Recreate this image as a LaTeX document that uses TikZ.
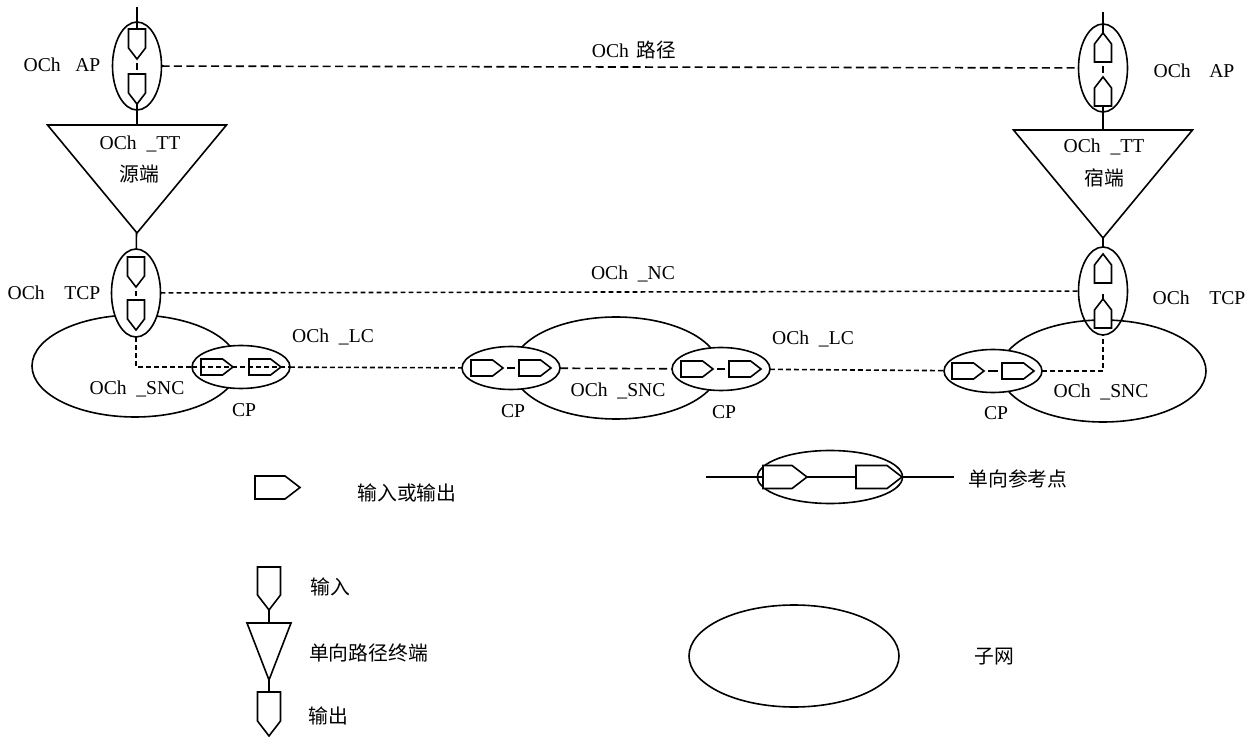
\documentclass[tikz,border=0pt]{standalone}
\usepackage{fontspec}
\setmainfont{Liberation Serif}
\newfontfamily\cjk{Noto Sans CJK SC}
\usepackage{tikz}
\usetikzlibrary{shapes.geometric,shapes.symbols}

\begin{document}
\begin{tikzpicture}[x=.5pt,y=-.5pt,line width=.8pt,
  every node/.style={inner sep=0pt,outer sep=0pt},
  net node/.style={ellipse,draw,minimum width=103pt,minimum height=51pt},
  ref node/.style={ellipse,draw,minimum width=24.5pt,minimum height=44pt},
  cp node/.style={ellipse,draw,fill=white,minimum width=49pt,minimum height=21.5pt},
  down port/.style={signal,draw,fill=white,signal to=south,signal pointer angle=75,anchor=north,minimum width=8.5pt,minimum height=9.5pt},
  up port/.style={signal,draw,fill=white,signal to=north,signal pointer angle=75,anchor=south,minimum width=8.5pt,minimum height=9pt},
  side port/.style={signal,draw,fill=white,signal to=east,signal pointer angle=75,anchor=west,minimum width=16pt,minimum height=8pt},
  term node/.style={isosceles triangle,isosceles triangle stretches,draw,shape border rotate=-90,anchor=apex,minimum width=89.5pt,minimum height=54pt},
  label node/.style={font=\fontsize{9.8}{12}\selectfont},
  cn node/.style={font=\fontsize{9.9}{12}\selectfont\cjk},
  gap/.style={shorten <=2pt,shorten >=2pt},
  long dash/.style={dash pattern=on 4pt off 2.2pt},
  short dash/.style={dash pattern=on 2.4pt off 1.6pt}]

  \useasboundingbox (0,0) rectangle (1253,737);

  % subnets, reference ellipses
  \node[net node,fill=white] (snca) at (135,366) {};
  \node[net node] (sncb) at (616,368) {};
  \node[ref node] (apl) at (137,66) {};
  \node[ref node] (apr) at (1103,68) {};
  \node[ref node,fill=white] (tcpl) at (136,293) {};
  \node[ref node] (tcpr) at (1103,291) {};
  \node[net node] (sncc) at (1103,371) {};
  \node[cp node] (cpa) at (241,367) {};
  \node[cp node] (cpb) at (511,368) {};
  \node[cp node] (cpc) at (721,369) {};
  \node[cp node] (cpd) at (993,371) {};

  % trail terminations
  \node[term node] (ttl) at (137,233) {};
  \node[term node] (ttr) at (1103,238) {};

  % ports
  \node[down port] (apl1) at (137,29) {};
  \node[down port] (apl2) at (137,74) {};
  \node[up port] (apr1) at (1103,62) {};
  \node[up port] (apr2) at (1103,106) {};
  \node[down port] (tcpl1) at (136,257) {};
  \node[down port] (tcpl2) at (136,300) {};
  \node[up port] (tcpr1) at (1103,283) {};
  \node[up port] (tcpr2) at (1103,328) {};
  \node[side port] (cpa1) at (201,367) {};
  \node[side port] (cpa2) at (249,367) {};
  \node[side port] (cpb1) at (471,368) {};
  \node[side port] (cpb2) at (519,368) {};
  \node[side port] (cpc1) at (681,369) {};
  \node[side port] (cpc2) at (729,369) {};
  \node[side port] (cpd1) at (952,371) {};
  \node[side port] (cpd2) at (1002,371) {};

  \coordinate (apltop) at (137,7);
  \coordinate (aprtop) at (1103,12);

  \path (apltop) edge (apl1)
    (apl2) edge (ttl.lower side)
    (ttl) edge (tcpl)
    (aprtop) edge (apr1)
    (apr2) edge (ttr.lower side)
    (ttr) edge (tcpr);
  \path[gap] (apl1) edge (apl2)
    (apr1) edge (apr2)
    (tcpl1) edge (tcpl2)
    (cpb1) edge (cpb2)
    (cpc1) edge (cpc2)
    (cpd1) edge (cpd2);
  \path[shorten <=5.5pt] (tcpr1) edge (tcpr2);

  % paths between the ends
  \draw[long dash] (apl) -- (apr);
  \draw[short dash] (tcpl) -- (tcpr);
  \draw[short dash] (tcpl) |- (cpa);
  \draw[short dash] (cpa.west) -- (cpa.east);
  \draw[short dash] (cpa) -- (cpb);
  \draw[long dash] (cpb) -- (cpc);
  \draw[short dash] (cpc) -- (cpd);
  \draw[short dash] (cpd) -| (tcpr);

  \node[label node] (lapl) at (62,65) {OCh\hspace{.75em}AP};
  \node[label node] (lapr) at (1194,71) {OCh\hspace{.95em}AP};
  \node[label node] (ltcpl) at (54,293) {OCh\hspace{1em}TCP};
  \node[label node] (ltcpr) at (1199,298) {OCh\hspace{1em}TCP};
  \node[label node] (ltt1) at (140,144) {OCh\hspace{.5em}\_TT};
  \node[label node] (ltt2) at (1104,147) {OCh\hspace{.5em}\_TT};
  \node[cn node] (lsrc) at (139,174) {源端};
  \node[cn node] (lsink) at (1104,178) {宿端};
  \node[label node] (ltrail) at (634,50) {OCh\hspace{.4em}{\cjk 路径}};
  \node[label node] (lnc) at (633,274) {OCh\hspace{.5em}\_NC};
  \node[label node] (llc1) at (333,337) {OCh\hspace{.5em}\_LC};
  \node[label node] (llc2) at (813,339) {OCh\hspace{.5em}\_LC};
  \node[label node] (lsnc1) at (137,389) {OCh\hspace{.5em}\_SNC};
  \node[label node] (lsnc2) at (618,391) {OCh\hspace{.5em}\_SNC};
  \node[label node] (lsnc3) at (1101,392) {OCh\hspace{.5em}\_SNC};
  \node[label node] (lcp1) at (244,410) {CP};
  \node[label node] (lcp2) at (513,411) {CP};
  \node[label node] (lcp3) at (724,412) {CP};
  \node[label node] (lcp4) at (996,413) {CP};

  % legend
  \node[side port,minimum width=22.5pt,minimum height=11.5pt] (keyport) at (255,487.5) {};
  \node[cn node] (lkeyport) at (407,493) {输入或输出};
  \node[down port,minimum width=11.5pt,minimum height=14pt] (keyin) at (269,567) {};
  \node[term node,minimum width=22pt,minimum height=28.5pt] (keytt) at (269,680) {};
  \node[down port,minimum width=11.5pt,minimum height=14.5pt] (keyout) at (269,692) {};
  \path (keyin) edge (keytt.lower side)
    (keytt) edge (keyout);
  \node[cn node] (lkeyin) at (330.5,587) {输入};
  \node[cn node] (lkeytt) at (368.5,653) {单向路径终端};
  \node[cn node] (lkeyout) at (328,716) {输出};

  \node[ellipse,draw,minimum width=72.5pt,minimum height=26.5pt] (keycp) at (830,477) {};
  \node[side port,minimum width=22pt,minimum height=11.5pt] (keycp1) at (763,477) {};
  \node[side port,minimum width=23pt,minimum height=11.5pt] (keycp2) at (856,477) {};
  \coordinate (keyl) at (706,477);
  \coordinate (keyr) at (954,477);
  \path (keyl) edge (keycp1)
    (keycp1) edge (keycp2)
    (keycp2) edge (keyr);
  \node[cn node] (lkeycp) at (1018,479) {单向参考点};

  \node[net node,minimum width=105pt] (keynet) at (794,656) {};
  \node[cn node] (lkeynet) at (994.5,657) {子网};
\end{tikzpicture}
\end{document}
